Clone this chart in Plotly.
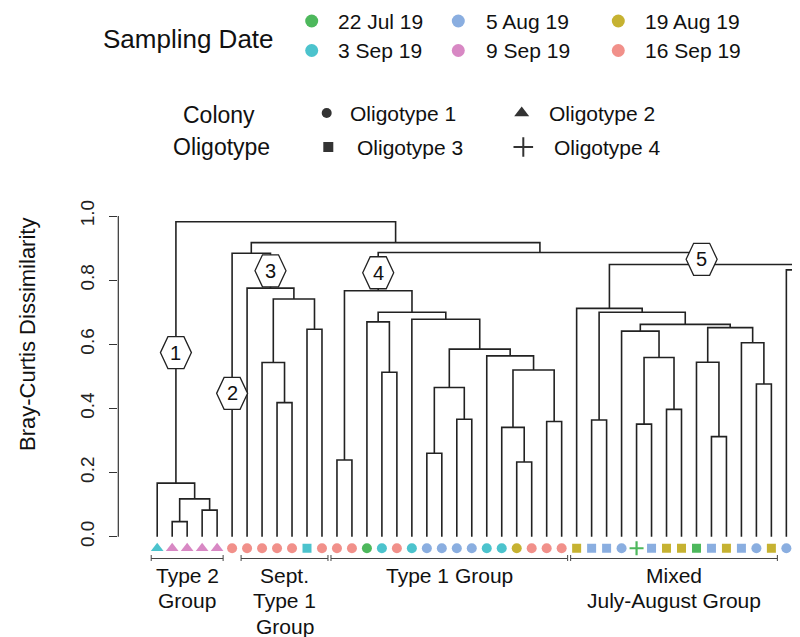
import plotly.graph_objects as go

# ---------------- data ----------------
date_names = ["22 Jul 19", "5 Aug 19", "19 Aug 19", "3 Sep 19", "9 Sep 19", "16 Sep 19"]
date_colors = ["#4DB85C", "#8AAEE0", "#C6B231", "#4CC3CD", "#D888C4", "#F1908A"]

oligotype_names = ["Oligotype 1", "Oligotype 2", "Oligotype 3", "Oligotype 4"]

# leaf order (left to right): sampling date and colony oligotype of each colony
leaf_dates = [
    "3 Sep 19", "9 Sep 19", "9 Sep 19", "9 Sep 19", "9 Sep 19",
    "16 Sep 19", "16 Sep 19", "16 Sep 19", "16 Sep 19", "16 Sep 19", "3 Sep 19", "16 Sep 19",
    "16 Sep 19", "16 Sep 19", "22 Jul 19", "3 Sep 19", "16 Sep 19", "3 Sep 19",
    "5 Aug 19", "5 Aug 19", "5 Aug 19", "5 Aug 19", "3 Sep 19", "3 Sep 19",
    "19 Aug 19", "16 Sep 19", "16 Sep 19", "16 Sep 19",
    "19 Aug 19", "5 Aug 19", "5 Aug 19", "5 Aug 19", "22 Jul 19", "5 Aug 19",
    "19 Aug 19", "19 Aug 19", "22 Jul 19", "5 Aug 19", "19 Aug 19", "5 Aug 19",
    "5 Aug 19", "19 Aug 19", "5 Aug 19", "3 Sep 19",
]
leaf_oligotypes = [
    2, 2, 2, 2, 2,
    1, 1, 1, 1, 1, 3, 1,
    1, 1, 1, 1, 1, 1,
    1, 1, 1, 1, 1, 1,
    1, 1, 1, 1,
    3, 3, 3, 1, 4, 3,
    3, 3, 3, 3, 3, 3,
    1, 3, 1, 1,
]

# dendrogram merges: (node, left child, right child, Bray-Curtis height)
merges = [
    ("a1", 1, 2, 0.047), ("a2", 3, 4, 0.083), ("a3", "a1", "a2", 0.118),
    ("T2", 0, "a3", 0.167),
    ("b1", 8, 9, 0.418), ("b2", 7, "b1", 0.543), ("b3", 10, 11, 0.647),
    ("b4", "b2", "b3", 0.741), ("b5", 6, "b4", 0.775), ("S", 5, "b5", 0.884),
    ("c1", 12, 13, 0.239), ("c2", 15, 16, 0.513), ("c3", 14, "c2", 0.670),
    ("c4", 18, 19, 0.260), ("c5", 20, 21, 0.366), ("c6", "c4", "c5", 0.465),
    ("c7", 24, 25, 0.233), ("c8", 23, "c7", 0.341), ("c9", 26, 27, 0.359),
    ("c10", "c8", "c9", 0.520), ("c11", 22, "c10", 0.564), ("c12", "c6", "c11", 0.585),
    ("c13", 17, "c12", 0.678), ("c14", "c3", "c13", 0.700), ("G4", "c1", "c14", 0.767),
    ("d1", 29, 30, 0.364), ("d2", 32, 33, 0.351), ("d3", 34, 35, 0.397),
    ("d4", "d2", "d3", 0.559), ("d5", 31, "d4", 0.641), ("d6", 37, 38, 0.312),
    ("d7", 36, "d6", 0.544), ("d8", 40, 41, 0.476), ("d9", 39, "d8", 0.605),
    ("d10", "d7", "d9", 0.652), ("d11", "d5", "d10", 0.662), ("d12", "d1", "d11", 0.700),
    ("d13", 28, "d12", 0.712), ("d14", 42, 43, 0.832), ("G5", "d13", "d14", 0.849),
    ("U", "G4", "G5", 0.886), ("R", "S", "U", 0.917), ("root", "T2", "R", 0.982),
]

# numbered node labels: (label, node, height on its branch)
node_labels = [("1", "T2", 0.574), ("2", 5, 0.447), ("3", "b5", 0.829),
               ("4", "G4", 0.823), ("5", "G5", 0.865)]

# leaf groups: (text lines, first leaf, last leaf)
groups = [
    (["Type 2", "Group"], 0, 4),
    (["Sept.", "Type 1", "Group"], 6, 11),
    (["Type 1 Group"], 12, 27),
    (["Mixed", "July-August Group"], 28, 41),
]

yticks = [0.0, 0.2, 0.4, 0.6, 0.8, 1.0]

# ---------------- build ----------------
FONT = "Liberation Sans, Arial, Helvetica, sans-serif"
OFF = 8                      # page body margin: figure starts 8 px into the window
WIN_W, WIN_H = 800, 637
W, H = WIN_W - OFF, WIN_H - OFF
n = len(leaf_dates)


def px(v):
    """window pixel -> figure pixel"""
    return v - OFF


pos = {i: (float(i), 0.0) for i in range(n)}
xs, ys = [], []
for name, a, b, h in merges:
    xa, ha = pos[a]
    xb, hb = pos[b]
    xs += [xa, xa, xb, xb, None]
    ys += [ha, h, h, hb, None]
    pos[name] = ((xa + xb) / 2.0, h)

fig = go.Figure()
fig.add_trace(go.Scatter(x=xs, y=ys, mode="lines",
                         line=dict(color="#222222", width=1.6),
                         hoverinfo="skip", showlegend=False))

sym = {1: "circle", 2: "triangle-up", 3: "square", 4: "cross-thin"}
msize = {1: 10, 2: 11, 3: 9, 4: 10}
color_of = dict(zip(date_names, date_colors))
for o in [1, 2, 3, 4]:
    idx = [i for i in range(n) if leaf_oligotypes[i] == o]
    if not idx:
        continue
    cols = [color_of[leaf_dates[i]] for i in idx]
    fig.add_trace(go.Scatter(
        x=idx, y=[-0.036] * len(idx), mode="markers",
        marker=dict(symbol=sym[o], size=msize[o], color=cols,
                    line=dict(width=2.2 if o == 4 else 0, color=cols)),
        hoverinfo="skip", showlegend=False))

shapes = []
annotations = []

# y axis line (0 to 1 only)
shapes.append(dict(type="line", xref="x domain", x0=0, x1=0, yref="y", y0=0, y1=1,
                   line=dict(color="#333333", width=1.2)))

# hexagon node labels
hexpath = "M -15.5 0 L -8 16 L 8 16 L 15.5 0 L 8 -16 L -8 -16 Z"
for lab, node, h in node_labels:
    x = pos[node][0]
    shapes.append(dict(type="path", xref="x", yref="y", xsizemode="pixel", ysizemode="pixel",
                       xanchor=x, yanchor=h, path=hexpath, fillcolor="white",
                       line=dict(color="#222222", width=1.3), layer="above"))
    annotations.append(dict(x=x, y=h, xref="x", yref="y", text=lab, showarrow=False,
                            font=dict(family=FONT, size=20, color="#111111"),
                            xanchor="center", yanchor="middle"))

# group brackets and labels (y in pixel coords on y2)
for lines, a, b in groups:
    x0, x1 = a - 0.4, b + 0.4
    shapes.append(dict(type="line", xref="x", yref="y2", x0=x0, x1=x1,
                       y0=px(558.5), y1=px(558.5), line=dict(color="#444444", width=1)))
    for xe in (x0, x1):
        shapes.append(dict(type="line", xref="x", yref="y2", x0=xe, x1=xe,
                           y0=px(555), y1=px(561), line=dict(color="#444444", width=1)))
    xc = (x0 + x1) / 2.0
    for k, t in enumerate(lines):
        annotations.append(dict(x=xc, y=px(575 + 25.5 * k), xref="x", yref="y2", text=t,
                                showarrow=False, xanchor="center", yanchor="middle",
                                font=dict(family=FONT, size=21, color="#111111")))

# y-axis title
annotations.append(dict(x=px(27), y=px(335), xref="x2", yref="y2",
                        text="Bray-Curtis Dissimilarity",
                        textangle=-90, showarrow=False, xanchor="center", yanchor="middle",
                        font=dict(family=FONT, size=22, color="#111111")))

# ---- top legends (pixel coordinates on x2/y2) ----
annotations.append(dict(x=px(101), y=px(39), xref="x2", yref="y2", text="Sampling Date",
                        showarrow=False, xanchor="left", yanchor="middle",
                        font=dict(family=FONT, size=26, color="#111111")))
legend_cols = [(311.7, 336), (458.3, 484), (618.3, 643)]
legend_rows = [21, 50.5]
date_grid = [["22 Jul 19", "3 Sep 19"], ["5 Aug 19", "9 Sep 19"], ["19 Aug 19", "16 Sep 19"]]
lx, ly, lc = [], [], []
for c, (mx, tx) in enumerate(legend_cols):
    for r, yv in enumerate(legend_rows):
        d = date_grid[c][r]
        lx.append(px(mx)); ly.append(px(yv)); lc.append(color_of[d])
        annotations.append(dict(x=px(tx), y=px(yv), xref="x2", yref="y2", text=d,
                                showarrow=False, xanchor="left", yanchor="middle",
                                font=dict(family=FONT, size=21, color="#111111")))
fig.add_trace(go.Scatter(x=lx, y=ly, xaxis="x2", yaxis="y2", mode="markers",
                         marker=dict(size=13, color=lc), hoverinfo="skip", showlegend=False))

annotations.append(dict(x=px(219), y=px(115), xref="x2", yref="y2", text="Colony",
                        showarrow=False, xanchor="center", yanchor="middle",
                        font=dict(family=FONT, size=23, color="#111111")))
annotations.append(dict(x=px(221), y=px(147), xref="x2", yref="y2", text="Oligotype",
                        showarrow=False, xanchor="center", yanchor="middle",
                        font=dict(family=FONT, size=23, color="#111111")))
olig_items = [  # (oligotype, marker x, text x, y)
    (1, 326.7, 348, 113), (3, 328.3, 355, 147), (2, 521.7, 546.5, 113), (4, 523.3, 551.5, 147)]
for o, mx, tx, yv in olig_items:
    fig.add_trace(go.Scatter(x=[px(mx)], y=[px(yv)], xaxis="x2", yaxis="y2", mode="markers",
                             marker=dict(symbol=sym[o], size={1: 10, 2: 13, 3: 10, 4: 14}[o],
                                         color="#333333",
                                         line=dict(width=2 if o == 4 else 0, color="#333333")),
                             hoverinfo="skip", showlegend=False))
    annotations.append(dict(x=px(tx), y=px(yv), xref="x2", yref="y2",
                            text=oligotype_names[o - 1],
                            showarrow=False, xanchor="left", yanchor="middle",
                            font=dict(family=FONT, size=21, color="#111111")))

# main panel geometry (window pixels)
x_left_px, y_top_px, y_bot_px = 118.3, 180.0, 560.0
leaf0_px, step_px = 157.2, 14.98
y0_px, unit_px = 536.7, 320.7

fig.update_layout(
    width=W, height=H, margin=dict(l=0, r=0, t=0, b=0),
    paper_bgcolor="white", plot_bgcolor="rgba(0,0,0,0)",
    font=dict(family=FONT, color="#111111"),
    shapes=shapes, annotations=annotations, showlegend=False,
    xaxis=dict(domain=[px(x_left_px) / W, 1],
               range=[(x_left_px - leaf0_px) / step_px, (WIN_W - leaf0_px) / step_px],
               visible=False, fixedrange=True),
    yaxis=dict(domain=[(WIN_H - y_bot_px) / H, (WIN_H - y_top_px) / H],
               range=[(y0_px - y_bot_px) / unit_px, (y0_px - y_top_px) / unit_px],
               tickvals=yticks, ticktext=["%.1f" % v for v in yticks],
               tickangle=-90, ticks="outside", ticklen=8, tickwidth=1.2, tickcolor="#333333",
               tickfont=dict(family=FONT, size=19, color="#222222"),
               showgrid=False, zeroline=False, showline=False, automargin=False,
               ticklabelstandoff=8),
    xaxis2=dict(domain=[0, 1], range=[0, W], visible=False, anchor="y2"),
    yaxis2=dict(domain=[0, 1], range=[H, 0], visible=False, anchor="x2"),
)

fig.write_html("out.html")
